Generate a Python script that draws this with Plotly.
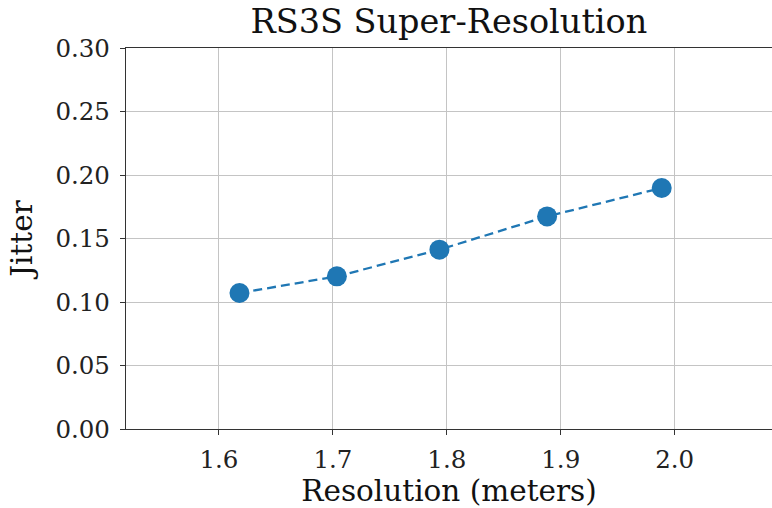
import plotly.graph_objects as go

resolution = [1.618, 1.7035, 1.7935, 1.888, 1.9886]
jitter = [0.1071, 0.1202, 0.1412, 0.1674, 0.1898]
x_ticks = [1.6, 1.7, 1.8, 1.9, 2.0]
x_tick_labels = ["1.6", "1.7", "1.8", "1.9", "2.0"]
y_ticks = [0.0, 0.05, 0.10, 0.15, 0.20, 0.25, 0.30]
y_tick_labels = ["0.00", "0.05", "0.10", "0.15", "0.20", "0.25", "0.30"]

FONT = "DejaVu Serif"

fig = go.Figure()
fig.add_trace(go.Scatter(
    x=resolution, y=jitter, mode="lines+markers",
    line=dict(color="#1f77b4", width=2.3, dash="9px,5px"),
    marker=dict(color="#1f77b4", size=20),
    showlegend=False,
))

axis_common = dict(
    showline=True, linecolor="#333333", linewidth=1.3,
    showgrid=True, gridcolor="#c4c4c4", gridwidth=1.2,
    ticks="outside", ticklen=5, tickwidth=1.2, tickcolor="#333333",
    tickfont=dict(family=FONT, size=24.5, color="#222222"),
    zeroline=False,
)

fig.update_layout(
    width=772, height=508,
    margin=dict(l=126, r=0, t=48, b=79),
    paper_bgcolor="white", plot_bgcolor="white",
    title=dict(text="RS3S Super-Resolution", x=0.5815, xanchor="center",
               y=0.935, yanchor="bottom",
               font=dict(family=FONT, size=33.5, color="#111111")),
    xaxis=dict(range=[1.5184, 2.0854], tickvals=x_ticks, ticktext=x_tick_labels,
               mirror=True, ticklabelstandoff=3,
               title=dict(text="Resolution (meters)", standoff=10,
                          font=dict(family=FONT, size=29.5, color="#111111")),
               **axis_common),
    yaxis=dict(range=[0, 0.30], tickvals=y_ticks, ticktext=y_tick_labels,
               mirror=False, ticklabelstandoff=5,
               title=dict(text="Jitter", standoff=14,
                          font=dict(family=FONT, size=29.5, color="#111111")),
               **axis_common),
)

fig.write_html("out.html")
